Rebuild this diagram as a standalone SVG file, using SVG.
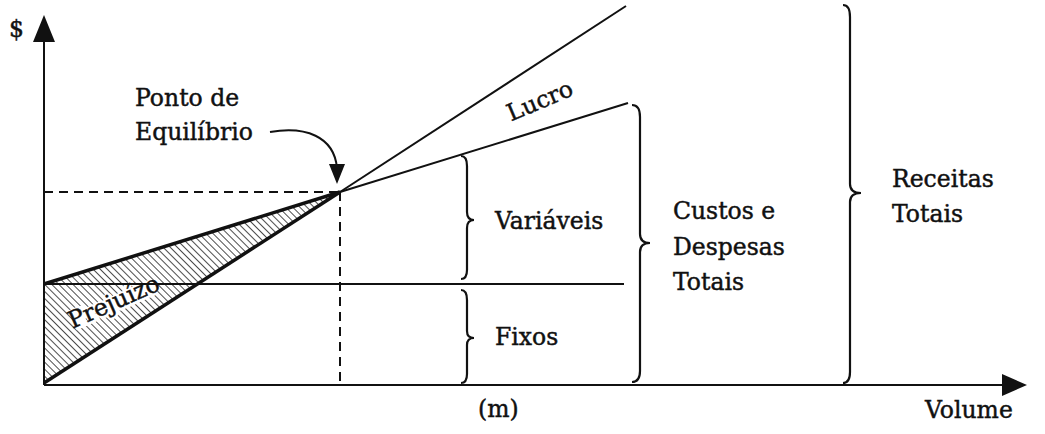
<svg xmlns="http://www.w3.org/2000/svg" width="1045" height="434" viewBox="0 0 1045 434">
<style>
.t{font-family:"DejaVu Serif","Liberation Serif",serif;font-size:23.5px;fill:#111;stroke:#111;stroke-width:0.45}
.ln{stroke:#111;stroke-width:2;fill:none}
.thk{stroke:#111;stroke-width:3.5;fill:none}
.dash{stroke:#111;stroke-width:2;stroke-dasharray:9 6;fill:none}
.br{stroke:#111;stroke-width:2.2;fill:none}
</style>
<defs>
<pattern id="hatch" width="5" height="5" patternUnits="userSpaceOnUse" patternTransform="rotate(-45)">
<line x1="0" y1="0" x2="0" y2="5" stroke="#111" stroke-width="1.5"/>
</pattern>
</defs>
<rect width="1045" height="434" fill="#fff"/>
<g id="axes">
<line class="ln" x1="44" y1="385" x2="44" y2="36"/>
<path d="M44 15 L55 42 L33 42 Z" fill="#111"/>
<line class="ln" x1="44" y1="385" x2="1004" y2="385"/>
<path d="M1027 385 L1002 374 L1002 396 Z" fill="#111"/>
<text class="t" x="9" y="37" font-size="25">$</text>
<text class="t" x="925" y="418">Volume</text>
<text class="t" x="478" y="417">(m)</text>
</g>
<g id="prejuizo">
<path d="M44 284 L340 192 L44 383 Z" fill="url(#hatch)"/>
<text transform="translate(117,309) rotate(-24)" text-anchor="middle" font-family="DejaVu Serif, Liberation Serif, serif" font-size="21" fill="#fff" stroke="#fff" stroke-width="6">Prejuízo</text>
<text class="t" transform="translate(117,309) rotate(-24)" text-anchor="middle" font-size="21">Prejuízo</text>
</g>
<g id="connectors">
<line class="dash" x1="44" y1="192" x2="340" y2="192"/>
<line class="dash" x1="340" y1="192" x2="340" y2="385"/>
<line class="ln" x1="44" y1="284" x2="624" y2="284"/>
<line class="thk" x1="44" y1="284" x2="340" y2="192"/>
<line class="thk" x1="44" y1="383" x2="340" y2="192"/>
<line class="ln" x1="340" y1="192" x2="626" y2="6"/>
<line class="ln" x1="340" y1="192" x2="628" y2="103"/>
<path class="ln" d="M270 132 C305 126 334 136 337 168"/>
<path d="M337 184 L329 164 L345 164 Z" fill="#111"/>
</g>
<g id="ponto">
<text class="t" x="135" y="106">Ponto de</text>
<text class="t" x="135" y="140">Equilíbrio</text>
</g>
<g id="lucro">
<text class="t" transform="translate(543,108) rotate(-23)" text-anchor="middle" font-size="19">Lucro</text>
</g>
<g id="variaveis">
<path class="br" d="M461 156 Q467 156 467 166 L467 212 Q467 220 474 220 Q467 220 467 228 L467 270 Q467 279 461 279"/>
<text class="t" x="495" y="229">Variáveis</text>
</g>
<g id="fixos">
<path class="br" d="M461 290 Q467 290 467 300 L467 331 Q467 338 474 338 Q467 338 467 345 L467 374 Q467 383 461 383"/>
<text class="t" x="495" y="345">Fixos</text>
</g>
<g id="custos">
<path class="br" d="M632 105 Q640 105 640 117 L640 234 Q640 243 650 243 Q640 243 640 252 L640 371 Q640 382 632 382"/>
<text class="t" x="673" y="219">Custos e</text>
<text class="t" x="673" y="255">Despesas</text>
<text class="t" x="673" y="290">Totais</text>
</g>
<g id="receitas">
<path class="br" d="M843 5 Q850 5 850 17 L850 184 Q850 193 861 193 Q850 193 850 202 L850 372 Q850 383 843 383"/>
<text class="t" x="892" y="187">Receitas</text>
<text class="t" x="892" y="222">Totais</text>
</g>
</svg>
